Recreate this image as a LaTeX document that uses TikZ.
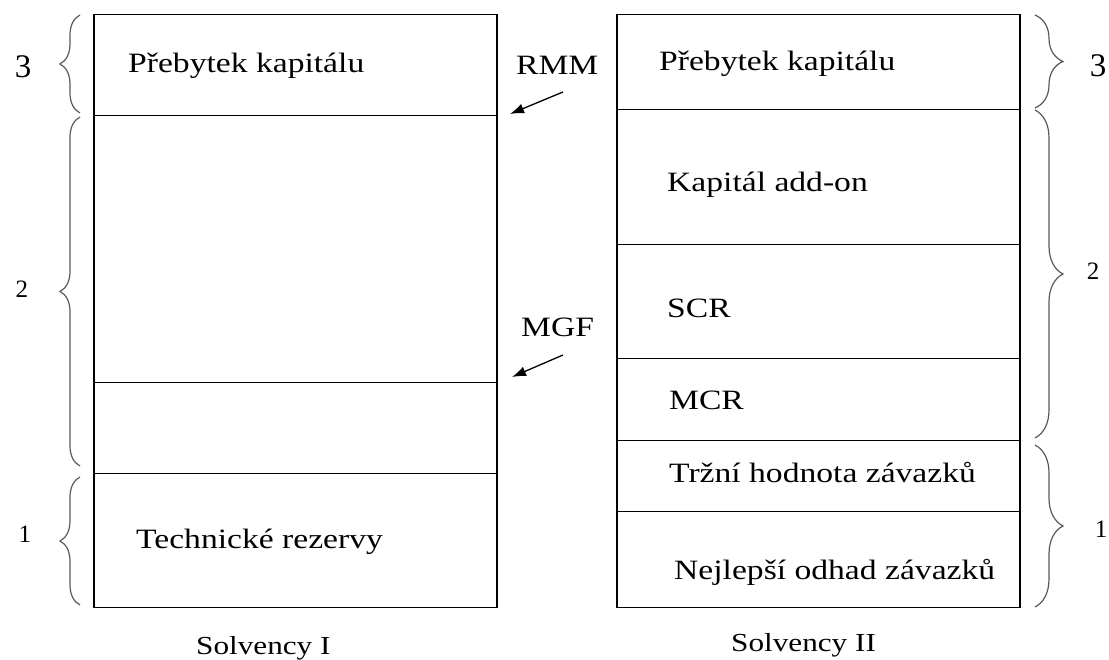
\documentclass[tikz,border=0pt]{standalone}
\usepackage{fontspec}
\setmainfont[FakeStretch=1.2]{Liberation Serif}
\newfontfamily\numfont{Liberation Serif}
\usetikzlibrary{decorations.pathreplacing,arrows.meta}
\tikzset{
  cell/.style={draw=black,line width=1.5pt,fill=none},
  lbl/.style={font=\fontsize{28}{30}\selectfont,anchor=base west,inner sep=0pt},
  captxt/.style={font=\fontsize{26}{28}\selectfont,anchor=base west,inner sep=0pt},
  numbig/.style={font=\numfont\fontsize{33}{34}\selectfont,anchor=base,inner sep=0pt},
  numsmall/.style={font=\numfont\fontsize{25}{26}\selectfont,anchor=base,inner sep=0pt},
  lbrace/.style={draw=black!65,line width=1.2pt,decorate,decoration={brace,amplitude=20pt}},
  rbrace/.style={draw=black!65,line width=1.2pt,decorate,decoration={brace,amplitude=28pt}},
  arr/.style={draw=black,line width=1.3pt,-{Latex[length=14pt,width=10pt]}}
}
\begin{document}
\begin{tikzpicture}[x=1pt,y=1pt]
\useasboundingbox (0,0) rectangle (1109,660);
% left column
\node[cell,minimum width=403pt,minimum height=101pt,anchor=north west,inner sep=0pt] (L3) at (93,646) {};
\node[cell,minimum width=403pt,minimum height=267pt,anchor=north west,inner sep=0pt] (L2a) at (93,545) {};
\node[cell,minimum width=403pt,minimum height=91pt,anchor=north west,inner sep=0pt] (L2b) at (93,278) {};
\node[cell,minimum width=403pt,minimum height=134pt,anchor=north west,inner sep=0pt] (L1) at (93,187) {};
% right column
\node[cell,minimum width=403pt,minimum height=95pt,anchor=north west,inner sep=0pt] (R3) at (616,646) {};
\node[cell,minimum width=403pt,minimum height=135pt,anchor=north west,inner sep=0pt] (Rka) at (616,551) {};
\node[cell,minimum width=403pt,minimum height=114pt,anchor=north west,inner sep=0pt] (Rscr) at (616,416) {};
\node[cell,minimum width=403pt,minimum height=82pt,anchor=north west,inner sep=0pt] (Rmcr) at (616,302) {};
\node[cell,minimum width=403pt,minimum height=71pt,anchor=north west,inner sep=0pt] (Rtr) at (616,220) {};
\node[cell,minimum width=403pt,minimum height=96pt,anchor=north west,inner sep=0pt] (Rne) at (616,149) {};
% texts
\node[lbl] (tL3) at (128,587) {Přebytek kapitálu};
\node[lbl] (tL1) at (136,111) {Technické rezervy};
\node[lbl] (tR3) at (659,589) {Přebytek kapitálu};
\node[lbl] (tKa) at (667,468) {Kapitál add-on};
\node[lbl] (tScr) at (667,342) {SCR};
\node[lbl] (tMcr) at (669,250) {MCR};
\node[lbl] (tTr) at (669,177) {Tržní hodnota závazků};
\node[lbl] (tNe) at (674,80) {Nejlepší odhad závazků};
\node[captxt] (sI) at (196,5) {Solvency I};
\node[captxt] (sII) at (731,8) {Solvency II};
\node[lbl] (rmm) at (516,585) {RMM};
\node[lbl] (mgf) at (521,323) {MGF};
% arrows
\coordinate (rmmS) at (563,568);
\coordinate (rmmE) at (510,546);
\coordinate (mgfS) at (563,305);
\coordinate (mgfE) at (512,283);
\draw[arr] (rmmS) -- (rmmE);
\draw[arr] (mgfS) -- (mgfE);
% left braces
\coordinate (lb3a) at (80,547); \coordinate (lb3b) at (80,645);
\coordinate (lb2a) at (80,194); \coordinate (lb2b) at (80,543);
\coordinate (lb1a) at (80,55);  \coordinate (lb1b) at (80,183);
\draw[lbrace] (lb3a) -- (lb3b);
\draw[lbrace] (lb2a) -- (lb2b);
\draw[lbrace] (lb1a) -- (lb1b);
\node[numbig] (n3l) at (23,582) {3};
\node[numsmall] (n2l) at (22,362) {2};
\node[numsmall] (n1l) at (25,117) {1};
% right braces
\coordinate (rb3a) at (1035,645); \coordinate (rb3b) at (1035,552);
\coordinate (rb2a) at (1035,550); \coordinate (rb2b) at (1035,222);
\coordinate (rb1a) at (1035,215); \coordinate (rb1b) at (1035,53);
\draw[rbrace] (rb3a) -- (rb3b);
\draw[rbrace] (rb2a) -- (rb2b);
\draw[rbrace] (rb1a) -- (rb1b);
\node[numbig] (n3r) at (1098,583) {3};
\node[numsmall] (n2r) at (1093,380) {2};
\node[numsmall] (n1r) at (1101,122) {1};
\end{tikzpicture}
\end{document}
